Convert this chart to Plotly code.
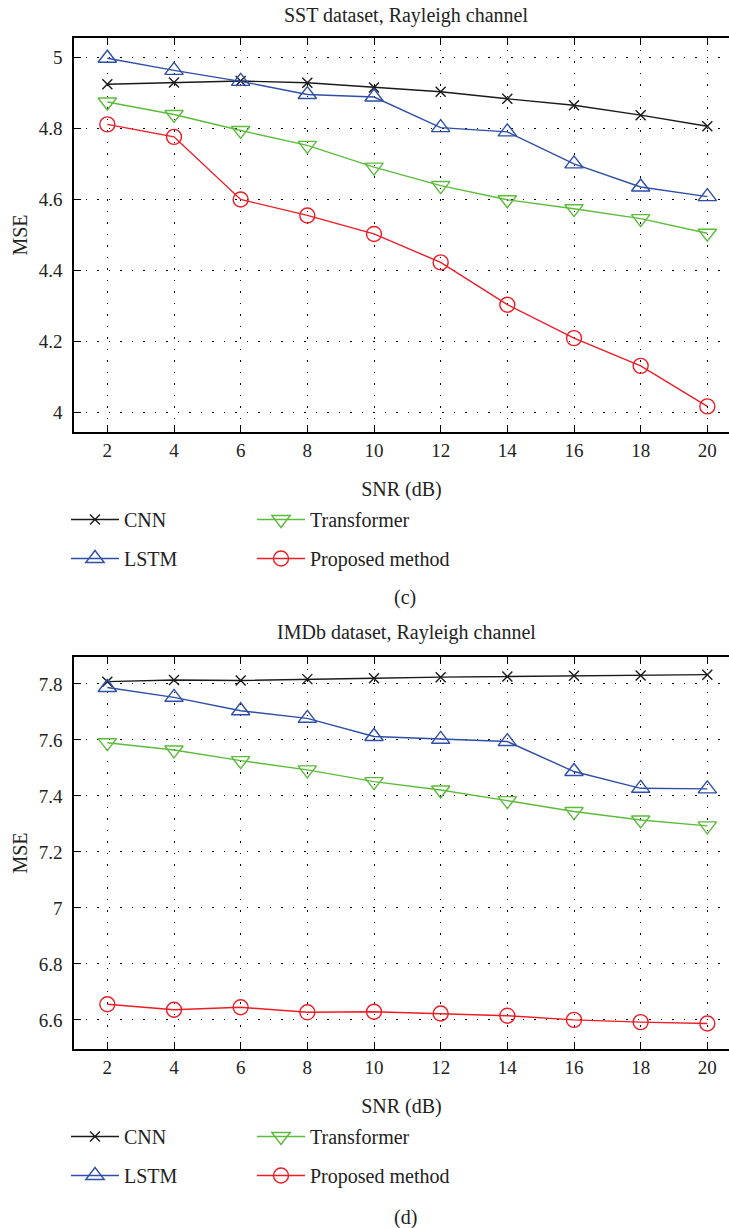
import plotly.graph_objects as go

W, H = 729, 1228

snr = [2, 4, 6, 8, 10, 12, 14, 16, 18, 20]
x_ticks = [2, 4, 6, 8, 10, 12, 14, 16, 18, 20]

# (c) SST dataset, Rayleigh channel
sst_cnn = [4.924, 4.929, 4.933, 4.928, 4.915, 4.903, 4.883, 4.865, 4.837, 4.806]
sst_lstm = [4.997, 4.963, 4.932, 4.895, 4.888, 4.802, 4.790, 4.700, 4.635, 4.608]
sst_transformer = [4.874, 4.839, 4.794, 4.752, 4.691, 4.639, 4.599, 4.574, 4.546, 4.505]
sst_proposed = [4.811, 4.776, 4.600, 4.555, 4.503, 4.423, 4.304, 4.210, 4.132, 4.018]
sst_yticks = [4, 4.2, 4.4, 4.6, 4.8, 5]

# (d) IMDb dataset, Rayleigh channel
imdb_cnn = [7.808, 7.814, 7.812, 7.817, 7.820, 7.824, 7.826, 7.829, 7.830, 7.833]
imdb_lstm = [7.787, 7.752, 7.704, 7.677, 7.612, 7.602, 7.594, 7.487, 7.427, 7.425]
imdb_transformer = [7.590, 7.564, 7.526, 7.493, 7.451, 7.421, 7.383, 7.344, 7.314, 7.293]
imdb_proposed = [6.656, 6.636, 6.645, 6.627, 6.629, 6.623, 6.615, 6.600, 6.592, 6.587]
imdb_yticks = [6.6, 6.8, 7, 7.2, 7.4, 7.6, 7.8]

names = ["CNN", "LSTM", "Transformer", "Proposed method"]
colors = ["#1a1a1a", "#2f4fa6", "#5dbb3c", "#ee1c25"]
symbols = ["x-thin-open", "triangle-up-open", "triangle-down-open", "circle-open"]
msizes = [10, 16, 16, 15]

FONT = "Liberation Serif, Times New Roman, serif"


def px_x(p):
    return p / W


def px_y(p):
    return 1 - p / H


fig = go.Figure()

panels = [
    (["x", "y"], [sst_cnn, sst_lstm, sst_transformer, sst_proposed], ["legend", "legend2"]),
    (["x2", "y2"], [imdb_cnn, imdb_lstm, imdb_transformer, imdb_proposed], ["legend3", "legend4"]),
]

for (xa, ya), series, legs in panels:
    for i, (name, vals) in enumerate(zip(names, series)):
        fig.add_trace(go.Scatter(
            x=snr, y=vals, name=name, mode="lines+markers",
            xaxis=xa, yaxis=ya,
            line=dict(color=colors[i], width=1.4),
            marker=dict(symbol=symbols[i], size=msizes[i], color=colors[i],
                        line=dict(color=colors[i], width=1.4)),
            legend=legs[0] if i in (0, 1) else legs[1],
            legendgroup=f"{xa}{i}",
        ))

axis_common = dict(
    showline=True, linecolor="black", linewidth=1.5,
    ticks="inside", ticklen=7, tickwidth=1.3, tickcolor="black",
    showgrid=True, gridcolor="black", gridwidth=1, griddash="1.5px,10px",
    zeroline=False,
    tickfont=dict(family=FONT, size=19, color="#222"),
)

x_range = [1, 1 + (W - 74) / (600 / 18)]

fig.update_layout(
    width=W, height=H,
    margin=dict(l=0, r=0, t=0, b=0),
    paper_bgcolor="white", plot_bgcolor="white",
    font=dict(family=FONT, size=20, color="#222"),
    showlegend=True,
    xaxis=dict(axis_common, domain=[px_x(74), 1], range=x_range, anchor="y",
               tickvals=x_ticks, mirror="ticks",
               title=dict(text="SNR (dB)", standoff=22, font=dict(family=FONT, size=20))),
    yaxis=dict(axis_common, domain=[px_y(432), px_y(38)], range=[3.946, 5.054], anchor="x",
               tickvals=sst_yticks, ticklabelstandoff=6,
               title=dict(text="MSE", standoff=6, font=dict(family=FONT, size=20))),
    xaxis2=dict(axis_common, domain=[px_x(74), 1], range=x_range, anchor="y2",
                tickvals=x_ticks, mirror="ticks",
                title=dict(text="SNR (dB)", standoff=22, font=dict(family=FONT, size=20))),
    yaxis2=dict(axis_common, domain=[px_y(1049), px_y(657)], range=[6.496, 7.896], anchor="x2",
                tickvals=imdb_yticks, ticklabelstandoff=6,
                title=dict(text="MSE", standoff=6, font=dict(family=FONT, size=20))),
)

leg_common = dict(orientation="v", xanchor="left", yanchor="top", bgcolor="rgba(0,0,0,0)",
                  borderwidth=0, traceorder="grouped", tracegroupgap=10,
                  font=dict(family=FONT, size=20, color="#222"), itemwidth=48)
fig.update_layout(
    legend=dict(leg_common, x=px_x(66), y=px_y(500)),
    legend2=dict(leg_common, x=px_x(252), y=px_y(500)),
    legend3=dict(leg_common, x=px_x(66), y=px_y(1117)),
    legend4=dict(leg_common, x=px_x(252), y=px_y(1117)),
)

annotations = [
    ("SST dataset, Rayleigh channel", 406, 15),
    ("(c)", 405, 597),
    ("IMDb dataset, Rayleigh channel", 406, 632),
    ("(d)", 405, 1217),
]
for text, xp, yp in annotations:
    fig.add_annotation(text=text, xref="paper", yref="paper", x=px_x(xp), y=px_y(yp),
                       xanchor="center", yanchor="middle", showarrow=False,
                       font=dict(family=FONT, size=20, color="#222"))

fig.write_html("out.html")
